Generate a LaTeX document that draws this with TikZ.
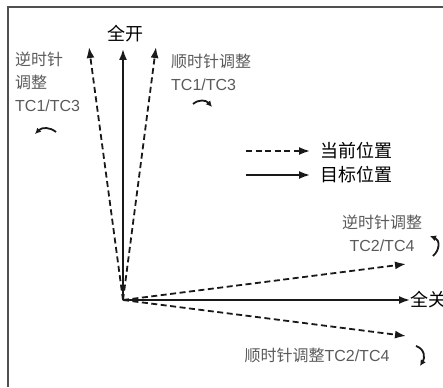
\documentclass[tikz,border=0pt]{standalone}
\usepackage{fontspec}
\setmainfont{Liberation Sans}
\newfontfamily\cjk{Noto Sans CJK SC}
\usetikzlibrary{arrows.meta, positioning}
\definecolor{inkdark}{RGB}{25, 25, 25}
\definecolor{labelgray}{RGB}{90, 90, 90}
\definecolor{framegray}{RGB}{80, 80, 80}

\begin{document}
\begin{tikzpicture}[
    x=1pt, y=-1pt,
    target/.style={-{Latex[length=11pt, width=8pt]}, line width=1.8pt, inkdark},
    current/.style={target, dash pattern=on 6pt off 3.5pt},
    turnarrow/.style={-{Latex[length=6pt, width=6pt]}, line width=1.8pt, inkdark},
    biglabel/.style={font=\cjk\fontsize{18}{20}\selectfont, text=black, inner sep=0pt},
    smalllabel/.style={font=\fontsize{16}{23}\selectfont, text=labelgray, inner sep=0pt}
]
    \useasboundingbox (0,0) rectangle (443,387);

    % Frame (left and top edges)
    \draw[framegray, line width=1.2pt] (8,387) -- (8,7) -- (443,7);

    % Pivot and arrow ends
    \coordinate (pivot) at (123,300);
    \coordinate (openccw) at (89,47);
    \coordinate (opencw) at (156,47);
    \coordinate (closeccw) at (406,264);
    \coordinate (closecw) at (406,336);

    % Full open / full closed
    \node[biglabel] (open) at (125,34) {全开};
    \node[biglabel, anchor=west] (close) at (410,300) {全关};

    \draw[target] (pivot) -- (123,49);
    \draw[target] (pivot) -- (close.west);
    \draw[current] (pivot) -- (openccw);
    \draw[current] (pivot) -- (opencw);
    \draw[current] (pivot) -- (closeccw);
    \draw[current] (pivot) -- (closecw);

    % TC1/TC3 labels
    \node[smalllabel, align=left, anchor=north west] (ccwone) at (15,52) {{\cjk 逆时针}\\{\cjk 调整}\\TC1/TC3};
    \node[smalllabel, align=left, anchor=north west] (cwone) at (171,54) {{\cjk 顺时针调整}\\TC1/TC3};
    \draw[turnarrow] (56,132) .. controls (50,127) and (42,127) .. (35,134);
    \draw[turnarrow] (193,104) .. controls (199,99) and (206,100) .. (212,107);

    % Legend
    \node[biglabel, anchor=west] (nowpos) at (320,151) {当前位置};
    \node[biglabel, anchor=west] (goalpos) at (320,175) {目标位置};
    \coordinate (nowstart) at (246,151);
    \coordinate (goalstart) at (246,175);
    \draw[current] (nowstart) -- ([xshift=-10pt]nowpos.west);
    \draw[target] (goalstart) -- ([xshift=-10pt]goalpos.west);

    % TC2/TC4 labels
    \node[smalllabel, align=center] (ccwtwo) at (382,233) {{\cjk 逆时针调整}\\TC2/TC4};
    \node[smalllabel] (cwtwo) at (317,355) {{\cjk 顺时针调整}TC2/TC4};
    \draw[turnarrow] (433,256) .. controls (440,250) and (440,240) .. (430,236);
    \draw[turnarrow] (416,346) .. controls (425,349) and (425,358) .. (420,366);
\end{tikzpicture}
\end{document}
